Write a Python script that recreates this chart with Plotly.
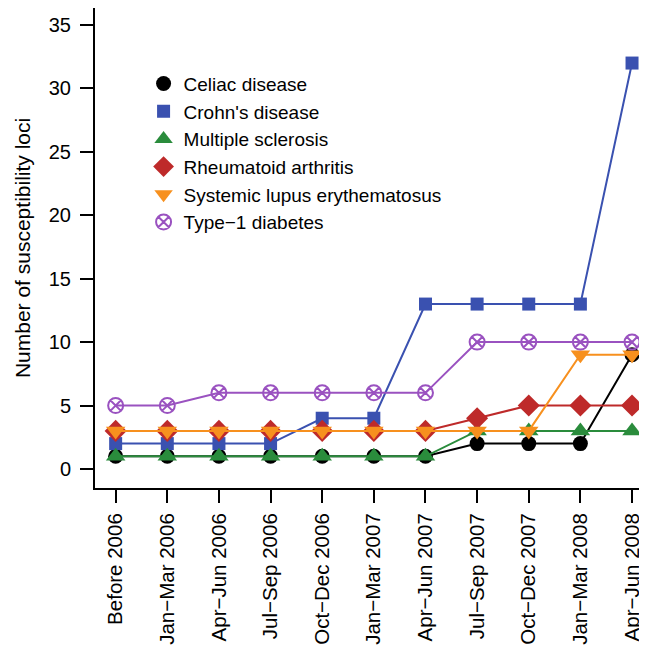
import plotly.graph_objects as go

periods = ["Before 2006", "Jan\u2212Mar 2006", "Apr\u2212Jun 2006", "Jul\u2212Sep 2006",
           "Oct\u2212Dec 2006", "Jan\u2212Mar 2007", "Apr\u2212Jun 2007", "Jul\u2212Sep 2007",
           "Oct\u2212Dec 2007", "Jan\u2212Mar 2008", "Apr\u2212Jun 2008"]

celiac = [1, 1, 1, 1, 1, 1, 1, 2, 2, 2, 9]
crohns = [2, 2, 2, 2, 4, 4, 13, 13, 13, 13, 32]
ms = [1, 1, 1, 1, 1, 1, 1, 3, 3, 3, 3]
ra = [3, 3, 3, 3, 3, 3, 3, 4, 5, 5, 5]
sle = [3, 3, 3, 3, 3, 3, 3, 3, 3, 9, 9]
t1d = [5, 5, 6, 6, 6, 6, 6, 10, 10, 10, 10]

series = [
    ("Celiac disease", celiac, "#000000", "circle", 15),
    ("Crohn's disease", crohns, "#3A51B0", "square", 13),
    ("Multiple sclerosis", ms, "#2A8C3C", "triangle-up", 17),
    ("Rheumatoid arthritis", ra, "#BE2A2A", "diamond", 17),
    ("Systemic lupus erythematosus", sle, "#F7901E", "triangle-down", 17),
    ("Type\u22121 diabetes", t1d, "#9A52C0", "circle-x-open", 15),
]

xs = list(range(len(periods)))
fig = go.Figure()
for name, vals, col, sym, sz in series:
    fig.add_trace(go.Scatter(
        x=xs, y=vals, mode="lines", name=name, showlegend=False,
        line=dict(color=col, width=2), legendgroup=name,
    ))
    fig.add_trace(go.Scatter(
        x=xs, y=vals, mode="markers", name=name, legendgroup=name,
        marker=dict(symbol=sym, size=sz, color=col,
                    line=dict(color=col, width=2 if sym.endswith("open") else 0)),
    ))

font = "Liberation Sans, Arial, Helvetica, sans-serif"
fig.update_layout(
    width=639, height=641,
    margin=dict(l=87, r=0, t=0, b=161),
    plot_bgcolor="white", paper_bgcolor="white",
    font=dict(family=font, color="black", size=19),
    showlegend=True,
    legend=dict(x=0.088, y=0.882, xanchor="left", yanchor="top",
                bgcolor="rgba(0,0,0,0)", font=dict(size=19), tracegroupgap=0,
                itemsizing="trace"),
    xaxis=dict(range=[-0.4, 10.29], tickmode="array", tickvals=xs, ticktext=periods,
               tickangle=-90, showline=True, linecolor="black", linewidth=2,
               ticks="outside", ticklen=13, tickwidth=2, tickcolor="black",
               showgrid=False, zeroline=False, tickfont=dict(size=20.5),
               automargin=False, ticklabelstandoff=2),
    yaxis=dict(range=[-1.5, 36.34], tickmode="array", tickvals=[0, 5, 10, 15, 20, 25, 30, 35],
               showline=True, linecolor="black", linewidth=2,
               ticks="outside", ticklen=13, tickwidth=2, tickcolor="black",
               showgrid=False, zeroline=False, tickfont=dict(size=20),
               automargin=False, ticklabelstandoff=5,
               title=dict(text="Number of susceptibility loci", font=dict(size=21), standoff=12)),
)
fig.write_html("out.html")
